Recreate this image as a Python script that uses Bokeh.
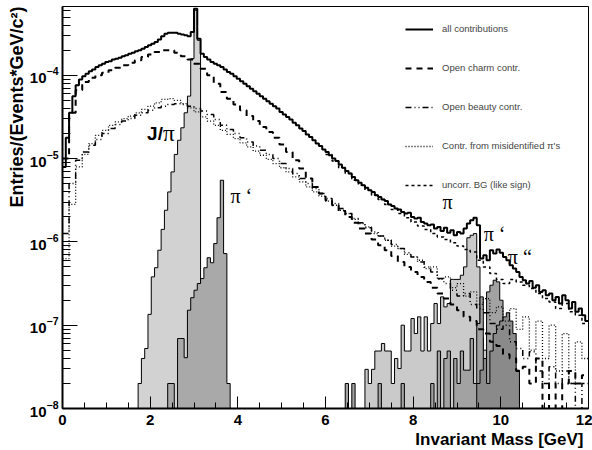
import math
from bokeh.plotting import figure
from bokeh.models import (Range1d, SingleIntervalTicker, Legend, LegendItem, Label, Title)
from bokeh.embed import file_html
from bokeh.resources import INLINE

# ---------------- data (log10 of entries per bin) -------------
# continuous contributions, 0.15 GeV bins starting at 0 GeV
CURVE_BIN = 0.15
charm_log10 = [
    -5.00, -4.45, -4.18, -4.08, -4.03, -4.00, -3.97, -3.94, -3.91, -3.88,
    -3.85, -3.82, -3.78, -3.75, -3.72, -3.70, -3.70, -3.73, -3.77, -3.81,
    -3.86, -3.92, -4.00, -4.10, -4.20, -4.28, -4.35, -4.42, -4.49, -4.55,
    -4.62, -4.68, -4.75, -4.83, -4.92, -5.02, -5.12, -5.24, -5.34, -5.42,
    -5.50, -5.56, -5.63, -5.70, -5.77, -5.84, -5.90, -5.97, -6.04, -6.10,
    -6.17, -6.24, -6.30, -6.36, -6.42, -6.48, -6.55, -6.62, -6.68, -6.75,
    -6.82, -6.90, -6.95, -7.05, -7.10, -7.20, -7.25, -7.35, -7.40, -7.55,
    -7.50, -7.70, -7.40, -10.0, -7.70, -10.0, -7.70, -7.55, -7.70, -7.60]
beauty_log10 = [
    -5.90, -5.30, -5.02, -4.92, -4.84, -4.77, -4.70, -4.64, -4.59, -4.55,
    -4.52, -4.48, -4.45, -4.42, -4.39, -4.37, -4.35, -4.34, -4.35, -4.37,
    -4.40, -4.43, -4.47, -4.53, -4.60, -4.65, -4.70, -4.75, -4.80, -4.85,
    -4.90, -4.95, -5.00, -5.06, -5.12, -5.18, -5.24, -5.30, -5.36, -5.42,
    -5.48, -5.54, -5.60, -5.66, -5.72, -5.77, -5.83, -5.88, -5.93, -5.98,
    -6.03, -6.08, -6.13, -6.18, -6.24, -6.30, -6.36, -6.44, -6.50, -6.58,
    -6.65, -6.62, -6.75, -6.80, -6.85, -6.98, -7.05, -7.00, -7.20, -7.28,
    -7.40, -7.32, -7.55, -7.70, -7.50, -7.70, -7.55, -7.70, -10.0, -7.70]
misid_log10 = [
    -6.20, -5.55, -5.10, -4.95, -4.82, -4.72, -4.66, -4.60, -4.56, -4.52,
    -4.49, -4.45, -4.41, -4.37, -4.33, -4.29, -4.28, -4.30, -4.34, -4.39,
    -4.44, -4.50, -4.55, -4.60, -4.66, -4.71, -4.76, -4.81, -4.86, -4.91,
    -4.96, -5.01, -5.06, -5.11, -5.16, -5.22, -5.28, -5.34, -5.40, -5.45,
    -5.51, -5.56, -5.62, -5.66, -5.73, -5.78, -5.82, -5.90, -5.93, -5.98,
    -6.05, -6.08, -6.15, -6.18, -6.22, -6.32, -6.30, -6.45, -6.42, -6.55,
    -6.50, -6.65, -6.60, -6.75, -6.68, -6.85, -6.78, -6.95, -6.80, -7.05,
    -6.90, -7.30, -6.95, -7.40, -7.00, -7.55, -7.10, -7.70, -7.20, -7.40]
# like-sign background, 0.15 GeV bins starting at 6.0 GeV
LIKE_START = 6.0
likesign_log10 = [
    -4.95, -5.03, -5.11, -5.18, -5.26, -5.32, -5.38, -5.44, -5.49, -5.55,
    -5.61, -5.66, -5.71, -5.76, -5.81, -5.85, -5.90, -5.94, -5.97, -6.01,
    -6.05, -6.09, -6.12, -6.22, -6.30, -6.38, -6.45, -6.50, -6.45, -6.48,
    -6.52, -6.56, -6.62, -6.68, -6.72, -6.80, -6.74, -6.84, -6.88, -6.98]
# sum of all contributions, 0.075 GeV bins starting at 0 GeV
SUM_BIN = 0.075
all_log10 = [
    -5.10, -4.75, -4.45, -4.25, -4.12, -4.05, -4.01, -3.98, -3.95, -3.93,
    -3.90, -3.88, -3.86, -3.84, -3.83, -3.81, -3.80, -3.79, -3.77, -3.76,
    -3.74, -3.73, -3.71, -3.70, -3.68, -3.66, -3.64, -3.62, -3.60, -3.57,
    -3.53, -3.50, -3.49, -3.49, -3.49, -3.50, -3.51, -3.52, -3.53, -3.48,
    -3.20, -3.56, -3.74, -3.78, -3.81, -3.84, -3.86, -3.88, -3.90, -3.93,
    -3.96, -3.98, -4.01, -4.04, -4.07, -4.10, -4.13, -4.16, -4.19, -4.22,
    -4.25, -4.28, -4.31, -4.34, -4.37, -4.40, -4.44, -4.47, -4.50, -4.53,
    -4.57, -4.60, -4.64, -4.67, -4.71, -4.74, -4.78, -4.82, -4.85, -4.89,
    -4.92, -4.96, -5.00, -5.03, -5.07, -5.11, -5.15, -5.18, -5.22, -5.26,
    -5.29, -5.32, -5.35, -5.38, -5.40, -5.44, -5.46, -5.49, -5.51, -5.55,
    -5.57, -5.60, -5.61, -5.64, -5.66, -5.65, -5.70, -5.72, -5.71, -5.76,
    -5.78, -5.80, -5.79, -5.84, -5.82, -5.87, -5.83, -5.89, -5.86, -5.92,
    -5.88, -5.90, -5.84, -5.78, -5.74, -5.71, -5.80, -6.20, -6.16, -6.22,
    -6.10, -6.14, -6.09, -6.13, -6.18, -6.22, -6.28, -6.32, -6.36, -6.42,
    -6.46, -6.50, -6.47, -6.55, -6.52, -6.60, -6.58, -6.64, -6.62, -6.70,
    -6.66, -6.74, -6.64, -6.70, -6.80, -6.72, -6.84, -6.80, -6.88, -6.95]

# resonance histograms, 0.075 GeV bins
RES_BIN = 0.075
jpsi_start = 1.725
jpsi_log10 = [-7.70, -7.40, -7.28, -6.87, -6.42, -6.31, -6.10, -5.85, -5.62, -5.40,
              -5.16, -4.95, -4.78, -4.63, -4.45, -4.25, -3.80, -3.22, -3.58]
psi2s_start = 2.4
psi2s_log10 = [-7.70, -7.70, -10.0, -7.16, -7.16, -7.39, -6.82, -6.67, -6.58, -6.50,
               -6.44, -6.31, -6.19, -6.25, -6.02, -5.71, -5.26, -6.14, -7.70]
ups1s_start = 6.9
ups1s_log10 = [-7.53, -7.70, -7.53, -7.31, -7.31, -7.22, -7.31, -7.31, -7.70, -7.40,
               -7.52, -7.00, -7.31, -7.31, -6.92, -7.10, -6.90, -7.31, -6.90, -7.31,
               -6.98, -6.74, -6.98, -6.66, -6.78, -6.74, -6.45, -6.45, -6.45, -6.40,
               -6.30, -5.95, -5.92, -5.90, -6.30, -7.15, -7.30, -7.70]
ups2s_start = 6.375
ups2s_log10 = [-10.0, -7.70, -10.0, -7.70, -10.0, -10.0, -10.0, -10.0, -10.0, -10.0,
               -10.0, -7.70, -10.0, -10.0, -10.0, -10.0, -10.0, -10.0, -7.70, -10.0,
               -10.0, -10.0, -10.0, -10.0, -10.0, -10.0, -10.0, -7.70, -10.0, -7.31,
               -10.0, -7.40, -7.31, -10.0, -7.40, -7.70, -7.31, -7.54, -7.54, -7.16,
               -7.70, -6.98, -6.66, -7.40, -6.60, -6.52, -6.46, -6.48, -6.70, -7.00,
               -7.15, -7.31, -7.54, -7.70]
ups3s_start = 9.45
ups3s_log10 = [-7.70, -7.54, -7.40, -7.70, -7.31, -7.10, -7.00, -6.95, -6.90, -6.85,
               -6.95, -7.10, -7.54]

x_ticks_major = 2
legend_labels = ["all contributions", "Open charm contr.", "Open beauty contr.",
                 "Contr. from misidentified π's", "uncorr. BG (like sign)"]
x_title = "Invariant Mass [GeV]"
y_title = "Entries/(Events*GeV/c²)"

assert len(all_log10) == 160 and len(charm_log10) == 80
assert len(beauty_log10) == 80 and len(misid_log10) == 80

FLOOR = 1e-10


def val(lv):
    return FLOOR if lv <= -9.5 else 10 ** lv


def hist_path(x0, w, logs, closed=True):
    xs, ys = [], []
    if closed:
        xs.append(x0); ys.append(FLOOR)
    for i, lv in enumerate(logs):
        v = val(lv)
        xs += [x0 + i * w, x0 + (i + 1) * w]
        ys += [v, v]
    if closed:
        xs.append(x0 + len(logs) * w); ys.append(FLOOR)
    return xs, ys


p = figure(width=592, height=450, output_backend="svg", toolbar_location=None,
           y_axis_type="log", x_range=Range1d(0, 12), y_range=Range1d(1e-8, 10 ** -3.174),
           min_border_left=62, min_border_right=4, min_border_top=6, min_border_bottom=42)
p.background_fill_color = "white"
p.border_fill_color = "white"
p.outline_line_color = "black"
p.outline_line_width = 1
p.xgrid.visible = False
p.ygrid.visible = False

# axes
p.xaxis.ticker = SingleIntervalTicker(interval=x_ticks_major, num_minor_ticks=4)
for ax in (p.xaxis[0], p.yaxis[0]):
    ax.axis_line_width = 2
    ax.axis_line_color = "black"
    ax.major_tick_out = 0
    ax.minor_tick_out = 0
    ax.major_tick_line_color = "black"
    ax.minor_tick_line_color = "black"
    ax.major_label_text_font = "Liberation Sans"
    ax.major_label_text_font_style = "bold"
    ax.major_label_text_font_size = "15px"
    ax.major_label_text_color = "black"
p.xaxis.major_tick_in = 12
p.xaxis.minor_tick_in = 6
p.yaxis.major_tick_in = 15
p.yaxis.minor_tick_in = 8
p.xaxis.major_label_standoff = 6
p.yaxis.major_label_standoff = 4

# axis titles, right/top aligned as in the reference
p.add_layout(Title(text=x_title, align="right", offset=5, standoff=0,
                   text_font="Liberation Sans", text_font_style="bold",
                   text_font_size="17px", text_color="black"), "below")
p.add_layout(Title(text=y_title, align="right", offset=0, standoff=0,
                   text_font="Liberation Sans", text_font_style="bold",
                   text_font_size="18px", text_color="black"), "left")

# resonance histograms (fill + outline)
for start, logs, col in [(jpsi_start, jpsi_log10, "#d2d2d2"),
                         (psi2s_start, psi2s_log10, "#a9a9a9"),
                         (ups1s_start, ups1s_log10, "#cacaca"),
                         (ups2s_start, ups2s_log10, "#a2a2a2"),
                         (ups3s_start, ups3s_log10, "#8a8a8a")]:
    xs, ys = hist_path(start, RES_BIN, logs)
    p.patch(xs, ys, fill_color=col, line_color=None)
    p.line(xs, ys, line_color="black", line_width=1)

# continuous contributions
xs, ys = hist_path(0.0, CURVE_BIN, misid_log10, closed=False)
r_mis = p.line(xs, ys, line_color="black", line_width=1.3, line_dash="1 2")
xs, ys = hist_path(0.0, CURVE_BIN, beauty_log10, closed=False)
r_beauty = p.line(xs, ys, line_color="black", line_width=1.5, line_dash="6 3 1 3 1 3")
xs, ys = hist_path(0.0, CURVE_BIN, charm_log10, closed=False)
r_charm = p.line(xs, ys, line_color="black", line_width=2, line_dash="6 5")
xs, ys = hist_path(LIKE_START, CURVE_BIN, likesign_log10, closed=False)
r_like = p.line(xs, ys, line_color="black", line_width=1.5, line_dash="3 3")
xs, ys = hist_path(0.0, SUM_BIN, all_log10, closed=False)
r_all = p.line(xs, ys, line_color="black", line_width=2)

legend = Legend(items=[LegendItem(label=l, renderers=[r]) for l, r in
                       zip(legend_labels, [r_all, r_charm, r_beauty, r_mis, r_like])],
                location=(343, 218), label_text_font="Liberation Sans",
                label_text_font_size="9.5px", glyph_width=28, glyph_height=10,
                label_height=10, spacing=28, padding=0, margin=0,
                border_line_color=None, background_fill_alpha=0, label_standoff=9)
p.add_layout(legend)

# peak labels
serif = "Liberation Serif"
labels = [
    (1.93, 10 ** -4.70, "J/", "Liberation Sans", "bold", "19px"),
    (2.29, 10 ** -4.70, "π", serif, "normal", "23px"),
    (3.83, 10 ** -5.45, "π ‘", serif, "normal", "20px"),
    (8.67, 10 ** -5.52, "π", serif, "normal", "20px"),
    (9.61, 10 ** -5.91, "π ‘", serif, "normal", "20px"),
    (10.16, 10 ** -6.18, "π “", serif, "normal", "20px"),
]
for x, y, t, f, st, sz in labels:
    p.add_layout(Label(x=x, y=y, text=t, text_font=f, text_font_style=st,
                       text_font_size=sz, text_color="black", text_baseline="alphabetic"))

open("out.html", "w").write(file_html(p, INLINE))
